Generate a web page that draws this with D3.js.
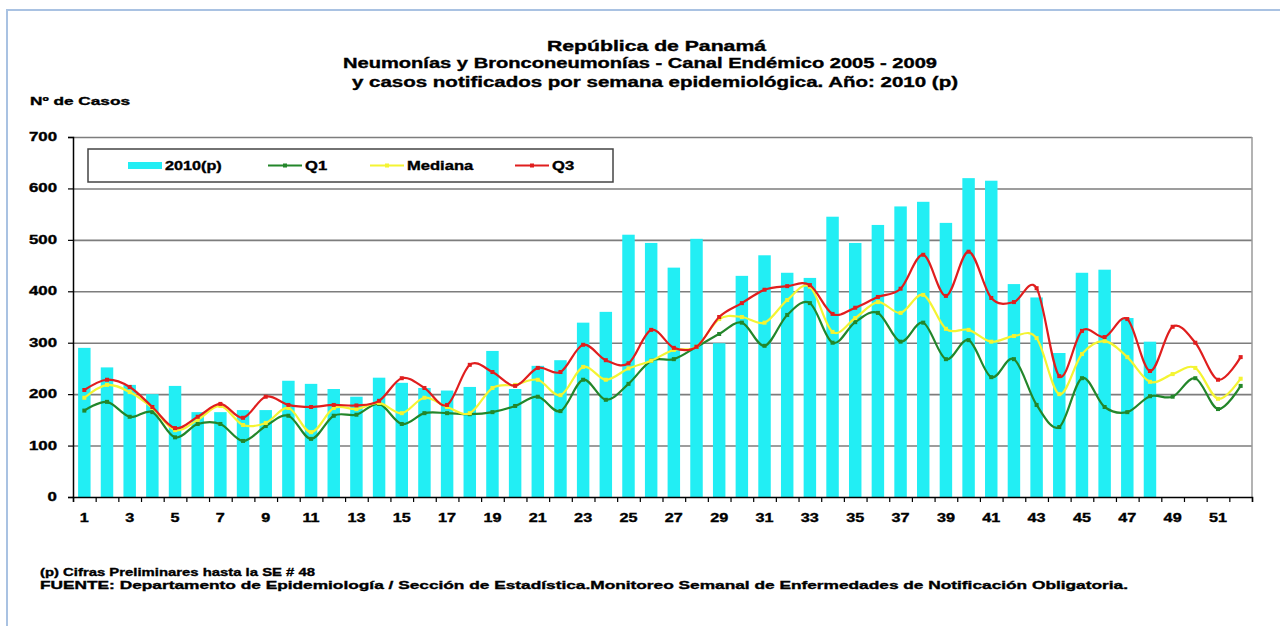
<!DOCTYPE html>
<html>
<head>
<meta charset="utf-8">
<script src="https://cdn.jsdelivr.net/npm/d3@7"></script>
<style>
  body { margin: 0; background: #fff; }
  text { font-family: "Liberation Sans", Arial, sans-serif; font-weight: bold; fill: #000; stroke: #000; stroke-width: 0.35px; }
</style>
</head>
<body>
<svg id="chart" width="1280" height="626"></svg>
<script>
// semanas epidemiologicas
var weeks = d3.range(1, 53);
var weekLabels = weeks.filter(function(w) { return w % 2 === 1; });
var yTicks = [0, 100, 200, 300, 400, 500, 600, 700];

// casos 2010 (p) hasta SE 48
var cases2010 = [290, 252, 218, 200, 216, 165, 165, 169, 169, 226, 220, 210, 195, 232, 222, 212, 207, 214, 284, 210,
  255, 266, 339, 360, 510, 494, 446, 502, 299, 430, 470, 436, 426, 545, 494, 529, 565, 574, 533, 620,
  615, 414, 388, 280, 436, 442, 348, 302];

var q1 = [168, 185, 156, 165, 116, 142, 142, 109, 138, 158, 113, 158, 160, 181, 142, 163, 163, 161, 165, 177,
  195, 167, 228, 189, 220, 265, 268, 292, 317, 339, 294, 354, 377, 300, 340, 358, 302, 339, 268, 305,
  233, 268, 179, 136, 231, 175, 165, 196, 195, 231, 171, 216];

var mediana = [193, 218, 204, 173, 130, 150, 177, 140, 144, 173, 126, 173, 171, 183, 163, 193, 175, 163, 212, 218,
  228, 198, 253, 228, 250, 265, 286, 292, 346, 350, 339, 383, 409, 321, 348, 379, 358, 393, 327, 325,
  302, 313, 309, 200, 278, 303, 272, 224, 239, 251, 191, 230];

var q3 = [208, 228, 214, 175, 134, 156, 181, 154, 195, 179, 175, 179, 178, 187, 231, 212, 179, 257, 243, 216,
  251, 243, 296, 266, 260, 325, 290, 292, 350, 377, 403, 410, 412, 356, 368, 389, 405, 471, 391, 477,
  387, 379, 406, 235, 323, 311, 346, 245, 331, 300, 228, 272];

var series = [
  { name: "Q1", values: q1, color: "#23862a" },
  { name: "Mediana", values: mediana, color: "#f4f432" },
  { name: "Q3", values: q3, color: "#e01e1e" }
];

var svg = d3.select("#chart");
var plotLeft = 73, plotRight = 1252, plotTop = 137, plotBottom = 497;

// stretch text horizontally like the original picture
function stretch(sel, k) {
  sel.each(function() {
    var w = this.getComputedTextLength();
    d3.select(this).attr("textLength", w * k).attr("lengthAdjust", "spacingAndGlyphs");
  });
}
function fitTo(sel, w) {
  sel.attr("textLength", w).attr("lengthAdjust", "spacingAndGlyphs");
}

// marco exterior
svg.append("rect")
  .attr("x", 7).attr("y", 10).attr("width", 1300).attr("height", 700)
  .attr("fill", "none").attr("stroke", "#a9c2e2").attr("stroke-width", 2);

var x = d3.scaleBand().domain(weeks).range([plotLeft, plotRight]).paddingInner(0.45).paddingOuter(0.225);
var xb = d3.scaleLinear().domain([0, 52]).range([plotLeft, plotRight]);
var y = d3.scaleLinear().domain([0, 700]).range([plotBottom, plotTop]);

// grid
svg.append("g")
  .attr("transform", "translate(" + plotLeft + ",0)")
  .call(d3.axisLeft(y).tickValues(yTicks.slice(1)).tickSize(-(plotRight - plotLeft)).tickFormat(""))
  .call(function(g) { g.select(".domain").remove(); })
  .selectAll("line").attr("stroke", "#7d7d7d").attr("stroke-width", 1.6);

// borde derecho del area
svg.append("line")
  .attr("x1", plotRight).attr("x2", plotRight).attr("y1", plotTop).attr("y2", plotBottom)
  .attr("stroke", "#9a9a9a").attr("stroke-width", 1.5);

// barras 2010
svg.append("g").selectAll("rect")
  .data(cases2010)
  .enter().append("rect")
    .attr("x", function(d, i) { return x(weeks[i]); })
    .attr("y", function(d) { return y(d); })
    .attr("width", x.bandwidth())
    .attr("height", function(d) { return y(0) - y(d); })
    .attr("fill", "#22eef4");

// lineas suavizadas
var line = d3.line()
  .x(function(d, i) { return x(weeks[i]) + x.bandwidth() / 2; })
  .y(function(d) { return y(d); })
  .curve(d3.curveCatmullRom.alpha(0));

series.forEach(function(s) {
  svg.append("path")
    .datum(s.values)
    .attr("d", line)
    .attr("fill", "none")
    .attr("stroke", s.color)
    .attr("stroke-width", 2.2);
  svg.append("g").selectAll("rect")
    .data(s.values)
    .enter().append("rect")
      .attr("x", function(d, i) { return x(weeks[i]) + x.bandwidth() / 2 - 2; })
      .attr("y", function(d) { return y(d) - 2; })
      .attr("width", 4).attr("height", 4)
      .attr("fill", s.color);
});

// eje Y
var yAxis = svg.append("g")
  .attr("transform", "translate(" + plotLeft + ",0)")
  .call(d3.axisLeft(y).tickValues(yTicks).tickSize(5).tickFormat(""));
yAxis.select(".domain").attr("stroke", "#000").attr("stroke-width", 1.5);
yAxis.selectAll("line").attr("stroke", "#000").attr("stroke-width", 1.2);

svg.append("g").selectAll("text")
  .data(yTicks)
  .enter().append("text")
    .attr("x", 57)
    .attr("y", function(d) { return y(d) + 4; })
    .attr("text-anchor", "end")
    .style("font-size", "12px")
    .text(function(d) { return d; })
    .call(stretch, 1.4);

// eje X
var xAxis = svg.append("g")
  .attr("transform", "translate(0," + plotBottom + ")")
  .call(d3.axisBottom(xb).tickValues(d3.range(53)).tickSize(5).tickFormat(""));
xAxis.select(".domain").attr("stroke", "#000").attr("stroke-width", 1.5);
xAxis.selectAll("line").attr("stroke", "#000").attr("stroke-width", 1.2);

svg.append("g").selectAll("text")
  .data(weekLabels)
  .enter().append("text")
    .attr("x", function(d) { return x(d) + x.bandwidth() / 2; })
    .attr("y", 522)
    .attr("text-anchor", "middle")
    .style("font-size", "12px")
    .text(function(d) { return d; })
    .call(stretch, 1.35);

// titulo
var titles = [
  { t: "República de Panamá", x: 547, w: 219, y: 51 },
  { t: "Neumonías y Bronconeumonías - Canal Endémico 2005 - 2009", x: 343, w: 594, y: 68 },
  { t: "y casos notificados por semana epidemiológica. Año: 2010 (p)", x: 352, w: 606, y: 87 }
];
titles.forEach(function(d) {
  svg.append("text")
    .attr("x", d.x).attr("y", d.y)
    .style("font-size", "14px")
    .text(d.t)
    .call(fitTo, d.w);
});

svg.append("text")
  .attr("x", 30).attr("y", 105)
  .style("font-size", "11px")
  .text("Nº de Casos")
  .call(fitTo, 100);

// leyenda
var lg = svg.append("g");
lg.append("rect")
  .attr("x", 88).attr("y", 149).attr("width", 525).attr("height", 33)
  .attr("fill", "#fff").attr("stroke", "#444").attr("stroke-width", 1.5);
lg.append("rect")
  .attr("x", 128).attr("y", 162).attr("width", 34).attr("height", 7)
  .attr("fill", "#22eef4");
lg.append("text").attr("x", 165).attr("y", 170).style("font-size", "12px")
  .text("2010(p)").call(stretch, 1.35);

var legendPos = [268, 370, 515];
series.forEach(function(s, i) {
  var lx = legendPos[i];
  lg.append("line")
    .attr("x1", lx).attr("x2", lx + 34).attr("y1", 165.5).attr("y2", 165.5)
    .attr("stroke", s.color).attr("stroke-width", 2);
  lg.append("rect")
    .attr("x", lx + 15).attr("y", 163.5).attr("width", 4).attr("height", 4)
    .attr("fill", s.color);
  lg.append("text").attr("x", lx + 37).attr("y", 170).style("font-size", "12px")
    .text(s.name).call(stretch, 1.38);
});

// notas
svg.append("text")
  .attr("x", 40).attr("y", 576)
  .style("font-size", "11px")
  .text("(p) Cifras Preliminares hasta la SE # 48")
  .call(fitTo, 275);
svg.append("text")
  .attr("x", 40).attr("y", 589)
  .style("font-size", "11px")
  .text("FUENTE:  Departamento de Epidemiología / Sección de Estadística.Monitoreo Semanal de Enfermedades de Notificación Obligatoria.")
  .call(fitTo, 1088);
</script>
</body>
</html>
